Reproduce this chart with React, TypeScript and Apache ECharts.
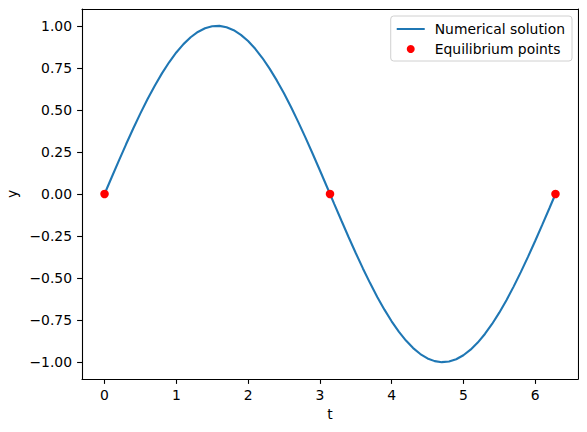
import React, { useEffect, useRef } from "react";
import * as echarts from "echarts";

const tValues = [
  0, 0.1, 0.2, 0.3, 0.4, 0.5, 0.6, 0.7, 0.8, 0.9,
  1.0, 1.1, 1.2, 1.3, 1.4, 1.5, 1.6, 1.7, 1.8, 1.9,
  2.0, 2.1, 2.2, 2.3, 2.4, 2.5, 2.6, 2.7, 2.8, 2.9,
  3.0, 3.1, 3.2, 3.3, 3.4, 3.5, 3.6, 3.7, 3.8, 3.9,
  4.0, 4.1, 4.2, 4.3, 4.4, 4.5, 4.6, 4.7, 4.8, 4.9,
  5.0, 5.1, 5.2, 5.3, 5.4, 5.5, 5.6, 5.7, 5.8, 5.9,
  6.0, 6.1, 6.2, 6.283,
];
const yValues = [
  0, 0.0998, 0.1987, 0.2955, 0.3894, 0.4794, 0.5646, 0.6442, 0.7174, 0.7833,
  0.8415, 0.8912, 0.932, 0.9636, 0.9854, 0.9975, 0.9996, 0.9917, 0.9738, 0.9463,
  0.9093, 0.8632, 0.8085, 0.7457, 0.6755, 0.5985, 0.5155, 0.4274, 0.335, 0.2392,
  0.1411, 0.0416, -0.0584, -0.1577, -0.2555, -0.3508, -0.4425, -0.5298, -0.6119, -0.6878,
  -0.7568, -0.8183, -0.8716, -0.9162, -0.9516, -0.9775, -0.9937, -0.9999, -0.9962, -0.9825,
  -0.9589, -0.9258, -0.8835, -0.8323, -0.7728, -0.7055, -0.6313, -0.5507, -0.4646, -0.3739,
  -0.2794, -0.1822, -0.0831, 0,
];
const eqT = [0, 3.1416, 6.2832];
const eqY = [0, 0, 0];
const xTicks = [0, 1, 2, 3, 4, 5, 6];
const yTicks = [-1, -0.75, -0.5, -0.25, 0, 0.25, 0.5, 0.75, 1];

const FONT = "DejaVu Sans";
const FS = 13.9;
const X_MIN = -0.314;
const X_MAX = 6.597;
const Y_MIN = -1.1;
const Y_MAX = 1.1;

function fmtY(v: number): string {
  const s = Math.abs(v).toFixed(2);
  return v < 0 ? "\u2212" + s : s;
}

const frameLine = { show: true, onZero: false, lineStyle: { color: "#000", width: 1.1 } };

export default function App() {
  const ref = useRef<HTMLDivElement>(null);
  useEffect(() => {
    if (!ref.current) return;
    const chart = echarts.init(ref.current, null, { renderer: "svg" });
    const line = tValues.map((t, i) => [t, yValues[i]]);
    const pts = eqT.map((t, i) => [t, eqY[i]]);
    chart.setOption({
      animation: false,
      textStyle: { fontFamily: FONT },
      grid: {
        left: 82,
        right: 9,
        top: 9,
        bottom: 53,
        outerBoundsMode: "none",
        containLabel: false,
      },
      legend: {
        orient: "vertical",
        right: 15,
        top: 16,
        itemWidth: 28,
        itemHeight: 8,
        itemGap: 6,
        padding: [6, 7, 5, 6],
        backgroundColor: "#fff",
        borderColor: "#d0d0d0",
        borderWidth: 1,
        borderRadius: 3,
        textStyle: { fontFamily: FONT, fontSize: FS, color: "#000", padding: [0, 0, 0, 5] },
        data: [
          { name: "Numerical solution", icon: "path://M0,3 L28,3 L28,5 L0,5 Z" },
          { name: "Equilibrium points", icon: "circle" },
        ],
      },
      xAxis: [
        {
          type: "value",
          min: X_MIN,
          max: X_MAX,
          name: "t",
          nameLocation: "middle",
          nameGap: 27,
          nameTextStyle: { fontFamily: FONT, fontSize: FS, color: "#000" },
          axisLine: frameLine,
          splitLine: { show: false },
          axisTick: {
            show: true,
            inside: false,
            length: 4.9,
            lineStyle: { color: "#000", width: 1.1 },
            customValues: xTicks,
          },
          axisLabel: {
            customValues: xTicks,
            margin: 9,
            fontFamily: FONT,
            fontSize: FS,
            color: "#000",
            formatter: (v: number) => String(v),
          },
        },
        {
          type: "value",
          position: "top",
          min: X_MIN,
          max: X_MAX,
          axisLine: frameLine,
          axisTick: { show: false },
          axisLabel: { show: false },
          splitLine: { show: false },
        },
      ],
      yAxis: [
        {
          type: "value",
          min: Y_MIN,
          max: Y_MAX,
          name: "y",
          nameLocation: "middle",
          nameGap: 60,
          nameRotate: 90,
          nameTextStyle: { fontFamily: FONT, fontSize: FS, color: "#000" },
          axisLine: frameLine,
          splitLine: { show: false },
          axisTick: {
            show: true,
            inside: false,
            length: 4.9,
            lineStyle: { color: "#000", width: 1.1 },
            customValues: yTicks,
          },
          axisLabel: {
            customValues: yTicks,
            margin: 10,
            fontFamily: FONT,
            fontSize: FS,
            color: "#000",
            formatter: (v: number) => fmtY(v),
          },
        },
        {
          type: "value",
          position: "right",
          min: Y_MIN,
          max: Y_MAX,
          axisLine: frameLine,
          axisTick: { show: false },
          axisLabel: { show: false },
          splitLine: { show: false },
        },
      ],
      series: [
        {
          name: "Numerical solution",
          type: "line",
          data: line,
          showSymbol: false,
          symbol: "none",
          lineStyle: { color: "#1f77b4", width: 2.1 },
          itemStyle: { color: "#1f77b4" },
          z: 2,
        },
        {
          name: "Equilibrium points",
          type: "scatter",
          data: pts,
          symbol: "circle",
          symbolSize: 8.5,
          itemStyle: { color: "#ff0000", opacity: 1 },
          z: 3,
        },
      ],
    });
    return () => chart.dispose();
  }, []);
  return <div ref={ref} style={{ width: 587, height: 432, margin: -8 }} />;
}
